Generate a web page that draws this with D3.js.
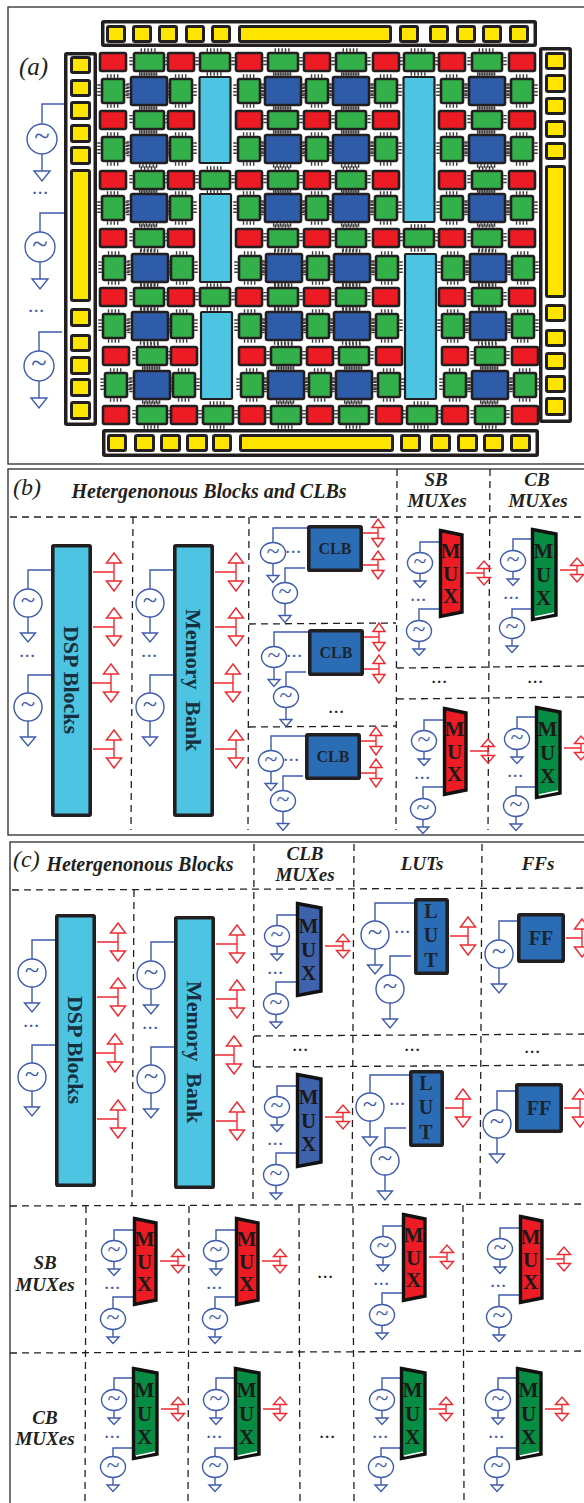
<!DOCTYPE html>
<html>
<head>
<meta charset="utf-8">
<script src="https://cdn.jsdelivr.net/npm/d3@7"></script>
<style>
  html, body { margin: 0; padding: 0; background: #fff; overflow: hidden; }
  svg { display: block; }
  text { font-family: "Liberation Serif", serif; fill: #231f20; }
</style>
</head>
<body>
<div id="chart"></div>
<script>
// Fabric contents, one string per row: R switch box, G connection box, B CLB, C hard block, . covered
var fabricRows = [
    "RGRGRGRGRGRGR",
    "GBGCGBGBGCGBG",
    "RGR.RGRGR.RGR",
    "GBG.GBGBG.GBG",
    "RGRGRGRGR.RGR",
    "GBGCGBGBG.GBG",
    "RGR.RGRGRGRGR",
    "GBG.GBGBGCGBG",
    "RGRGRGRGR.RGR",
    "GBGCGBGBG.GBG",
    "RGR.RGRGR.RGR",
    "GBG.GBGBG.GBG",
    "RGRGRGRGRGRGR"
];
// hard blocks: column, first row, last row
var hardBlocks = [[3, 1, 3], [3, 5, 7], [3, 9, 11], [9, 1, 5], [9, 7, 11]];

var panelLabels = ["(a)", "(b)", "(c)"];
var blockNames = ["DSP Blocks", "Memory Bank", "DSP Blocks", "Memory Bank"];
var muxLetters = ["M", "U", "X"];
var lutLetters = ["L", "U", "T"];
var headerB = ["Hetergenonous Blocks and CLBs", "SB", "MUXes", "CB", "MUXes"];
var headerC = ["Hetergenonous Blocks", "CLB", "MUXes", "LUTs", "FFs", "SB", "MUXes", "CB", "MUXes"];

var svgWidth = 584;
var svgHeight = 1503;

var ink = "#231f20";
var blue = "#3f5bab";
var red = "#ee2a30";
var tileFill = { R: "#ed1c24", G: "#33b04a", B: "#2f5ca8", C: "#4cc4e2" };
var muxFill = { sb: "#ed1c24", cb: "#078c43", clb: "#3f62ad" };

// layout of the fabric
var colCenters = [113, 149, 181, 215, 249, 283, 317, 351, 386, 419, 452, 487, 522];
var rowCenters = [62, 91, 120, 149, 180, 208, 238, 268, 297, 326, 356, 385, 415];
var rowShift = [0, 0, 0, 0, 0, 0, 0, 1, 0, 1, 3, 3, 3];
var xCol = d3.scaleLinear().domain(d3.range(colCenters.length)).range(colCenters);
var yRow = d3.scaleLinear().domain(d3.range(rowCenters.length)).range(rowCenters);

var topPadEdges = [[106, 126], [132, 152], [158, 178], [185, 205], [211, 231], [238, 392], [399, 419], [429, 449], [456, 476], [482, 502], [509, 529]];
var bottomPadEdges = [[107, 127], [134, 155], [160, 181], [186, 208], [212, 232], [239, 394], [400, 421], [430, 451], [457, 478], [483, 504], [510, 531]];
var leftPadEdges = [[56, 74], [79, 97], [101, 120], [124, 143], [146, 165], [169, 302], [308, 327], [334, 352], [356, 375], [378, 397], [401, 420]];
var rightPadEdges = [[52, 70], [74, 93], [97, 115], [120, 138], [142, 160], [165, 298], [304, 322], [329, 347], [352, 370], [375, 393], [397, 416]];

var svg = d3.select("#chart")
    .append("svg")
    .attr("width", svgWidth)
    .attr("height", svgHeight);

// Panel frames
var frames = [[8, 7, 600, 457], [8, 469, 600, 366], [10, 842, 600, 700]];
svg.selectAll("rect.frame")
    .data(frames)
    .join("rect")
    .attr("class", "frame")
    .attr("x", d => d[0])
    .attr("y", d => d[1])
    .attr("width", d => d[2])
    .attr("height", d => d[3])
    .attr("fill", "none")
    .attr("stroke", "#3a3a3a")
    .attr("stroke-width", 1.4);

// Pad rings around the fabric
var padBars = [[101, 20, 436, 27], [102, 429, 437, 28], [64, 52, 33, 374], [539, 47, 33, 376]];
svg.selectAll("rect.bar")
    .data(padBars)
    .join("rect")
    .attr("class", "bar")
    .attr("x", d => d[0] + 1.75)
    .attr("y", d => d[1] + 1.75)
    .attr("width", d => d[2] - 3.5)
    .attr("height", d => d[3] - 3.5)
    .attr("rx", 1)
    .attr("fill", "#fff")
    .attr("stroke", ink)
    .attr("stroke-width", 3.5);

var pads = [];
topPadEdges.forEach(e => pads.push([e[0], 25, e[1] - e[0], 18]));
bottomPadEdges.forEach(e => pads.push([e[0], 434, e[1] - e[0], 18]));
leftPadEdges.forEach(e => pads.push([70, e[0], 21, e[1] - e[0]]));
rightPadEdges.forEach(e => pads.push([545, e[0], 21, e[1] - e[0]]));
svg.selectAll("rect.pad")
    .data(pads)
    .join("rect")
    .attr("class", "pad")
    .attr("x", d => d[0] + 1.5)
    .attr("y", d => d[1] + 1.5)
    .attr("width", d => d[2] - 3)
    .attr("height", d => d[3] - 3)
    .attr("rx", 1.5)
    .attr("fill", "#fde500")
    .attr("stroke", ink)
    .attr("stroke-width", 3);

// Fabric tiles
var tiles = [];
fabricRows.forEach(function (row, r) {
    row.split("").forEach(function (kind, c) {
        if (kind == "." || kind == "C") return;
        var w = 26, h = 18;
        if (kind == "G") {
            w = r % 2 ? 22 : 30;
            h = r % 2 ? 24 : 18;
        }
        if (kind == "B") {
            w = 36;
            h = 28;
        }
        tiles.push({ kind: kind, cx: xCol(c) + rowShift[r], cy: yRow(r), w: w, h: h });
    });
});

var pinned = tiles.filter(d => d.kind != "R");
var pins = [];
pinned.forEach(function (d) {
    var ox = d.w / 2 + 3, oy = d.h / 2 + 3;
    var lx = d.w * 0.28, ly = d.h * 0.28;
    pins.push([d.cx - lx, d.cy - oy, d.cx + lx, d.cy - oy]);
    pins.push([d.cx - lx, d.cy + oy, d.cx + lx, d.cy + oy]);
    pins.push([d.cx - ox, d.cy - ly, d.cx - ox, d.cy + ly]);
    pins.push([d.cx + ox, d.cy - ly, d.cx + ox, d.cy + ly]);
});
svg.selectAll("line.pin")
    .data(pins)
    .join("line")
    .attr("class", "pin")
    .attr("x1", d => d[0])
    .attr("y1", d => d[1])
    .attr("x2", d => d[2])
    .attr("y2", d => d[3])
    .attr("stroke", "#3a3a3a")
    .attr("stroke-width", 3.5)
    .attr("stroke-dasharray", "1.4,2");

svg.selectAll("rect.tile")
    .data(tiles)
    .join("rect")
    .attr("class", "tile")
    .attr("x", d => d.cx - d.w / 2)
    .attr("y", d => d.cy - d.h / 2)
    .attr("width", d => d.w)
    .attr("height", d => d.h)
    .attr("rx", 1.5)
    .attr("fill", d => tileFill[d.kind])
    .attr("stroke", ink)
    .attr("stroke-width", 2.6);

svg.selectAll("rect.hard")
    .data(hardBlocks)
    .join("rect")
    .attr("class", "hard")
    .attr("x", d => xCol(d[0]) + rowShift[d[2]] / 2 - 15.5)
    .attr("y", d => yRow(d[1]) - 14)
    .attr("width", 31)
    .attr("height", d => yRow(d[2]) - yRow(d[1]) + 28)
    .attr("rx", 1)
    .attr("fill", tileFill.C)
    .attr("stroke", ink)
    .attr("stroke-width", 2.2);

// Dashed cell borders
var dashes = [
    [10, 517, 584, 517], [133, 517, 131, 830], [249, 517, 248, 830], [397, 469, 396, 830], [490, 469, 488, 830],
    [249, 624, 396, 623], [249, 727, 396, 726], [397, 668, 584, 666], [397, 699, 584, 697],
    [12, 890, 584, 888], [134, 890, 132, 1205], [254, 844, 253, 1205], [354, 844, 352, 1205], [482, 844, 480, 1205],
    [254, 1036, 584, 1034], [254, 1067, 584, 1065],
    [10, 1206, 584, 1204], [10, 1353, 584, 1351],
    [86, 1206, 85, 1503], [189, 1206, 188, 1503], [299, 1206, 300, 1503], [353, 1206, 354, 1503], [463, 1205, 464, 1503]
];
svg.selectAll("line.dash")
    .data(dashes)
    .join("line")
    .attr("class", "dash")
    .attr("x1", d => d[0])
    .attr("y1", d => d[1])
    .attr("x2", d => d[2])
    .attr("y2", d => d[3])
    .attr("stroke", ink)
    .attr("stroke-width", 1.3)
    .attr("stroke-dasharray", "7,5");

// Sizes of the source and arrow symbols
var sourceSize = {
    pad: { rx: 15, ry: 15, gap: 17, hw: 8, h: 10 },
    big: { rx: 14, ry: 14, gap: 16, hw: 7.5, h: 9 },
    clb: { rx: 12.5, ry: 10.5, gap: 12, hw: 6, h: 7 },
    mux: { rx: 12.5, ry: 10.5, gap: 7.5, hw: 6, h: 6.5 }
};
var arrowSize = {
    big: { hh: 19, hw: 7.5, h: 10 },
    clb: { hh: 14, hw: 6, h: 8.5 },
    mux: { hh: 12, hw: 6.5, h: 7.5 }
};

var sources = [], arrows = [], blueDots = [], blackDots = [];
var rects = [], rectLabels = [], muxes = [];

function addSource(size, cx, cy, wireY, wireTo) {
    sources.push({ s: sourceSize[size], cx: cx, cy: cy, wireY: wireY, wireTo: wireTo });
}
function addArrow(size, x, y, from) {
    arrows.push({ s: arrowSize[size], x: x, y: y, from: from });
}

// Panel (a) sources
addSource("pad", 42, 139, 104, 64);
addSource("pad", 40, 247, 213, 64);
addSource("pad", 39, 366, 332, 62);
blueDots.push([41, 192], [37, 310]);

// DSP and memory blocks
var bigBlockPos = [[51, 544], [173, 544], [55, 914], [174, 916]];
bigBlockPos.forEach(function (p, i) {
    var x = p[0], y = p[1];
    rects.push({ x: x, y: y, w: 41, h: 273, fill: tileFill.C, sw: 3.6 });
    rectLabels.push({ text: blockNames[i], x: x + 20.5, y: y + 136, size: 22, rotate: 90, fill: "#16303f", gap: i % 2 ? 6 : 0 });
    addSource("big", x - 23, y + 59, y + 26, x);
    addSource("big", x - 23, y + 163, y + 131, x);
    blueDots.push([x - 23, y + 111]);
    addArrow("big", x + 63, y + 28, x + 42);
    addArrow("big", x + 63, y + 83, x + 42);
    addArrow("big", x + 60, y + 139, x + 41);
    addArrow("big", x + 63, y + 205, x + 42);
});

// CLBs in panel (b)
var clbPos = [[307, 525], [308, 629], [305, 733]];
clbPos.forEach(function (p) {
    var x = p[0], y = p[1];
    rects.push({ x: x, y: y, w: 56, h: 47, fill: "#2b6db4", sw: 3.6 });
    rectLabels.push({ text: "CLB", x: x + 28, y: y + 24, size: 16, fill: "#1c2430" });
    addSource("clb", x - 34, y + 28, y + 3, x);
    addSource("clb", x - 22, y + 68, y + 43, x - 2);
    blueDots.push([x - 13, y + 26]);
    addArrow("clb", x + 71, y + 8, x + 56);
    addArrow("clb", x + 71, y + 40, x + 56);
});

// LUTs and FFs in panel (c)
var lutPos = [[414, 898], [409, 1070]];
lutPos.forEach(function (p) {
    var x = p[0], y = p[1];
    rects.push({ x: x, y: y, w: 35, h: 77, fill: "#2b6db4", sw: 3.6 });
    lutLetters.forEach(function (t, i) {
        rectLabels.push({ text: t, x: x + 17, y: y + 13 + i * 24.5, size: 20, fill: "#1c2430" });
    });
    addSource("big", x - 39, y + 37, y + 5, x);
    addSource("big", x - 24, y + 91, y + 58, x - 3);
    blueDots.push([x - 11, y + 33]);
    addArrow("big", x + 54, y + 38, x + 36);
});
var ffPos = [[517, 913], [515, 1083]];
ffPos.forEach(function (p) {
    var x = p[0], y = p[1];
    rects.push({ x: x, y: y, w: 48, h: 50, fill: "#2b6db4", sw: 3.6 });
    rectLabels.push({ text: "FF", x: x + 24, y: y + 25, size: 20, fill: "#1c2430" });
    addSource("big", x - 18, y + 41, y + 8, x);
    addArrow("big", x + 65, y + 25, x + 49);
});

// MUXes: kind, left edge, top edge
var muxPos = [
    ["sb", 439, 529], ["cb", 531, 528], ["sb", 443, 707], ["cb", 535, 706],
    ["clb", 296, 902], ["clb", 296, 1073],
    ["sb", 133, 1217], ["sb", 235, 1217], ["sb", 402, 1213], ["sb", 519, 1215],
    ["cb", 132, 1367], ["cb", 234, 1367], ["cb", 400, 1367], ["cb", 516, 1367]
];
var muxShape = { sb: { w: 24, h: 89 }, cb: { w: 26, h: 93 }, clb: { w: 26, h: 95 } };
muxPos.forEach(function (m) {
    var kind = m[0], x = m[1], y = m[2], s = muxShape[kind];
    muxes.push({ kind: kind, x: x, y: y, w: s.w, h: s.h });
    muxLetters.forEach(function (t, i) {
        rectLabels.push({ text: t, x: x + s.w / 2 - 0.5, y: y + s.h * (i + 1) / 4, size: 21, fill: "#1a1a1a" });
    });
    var d = kind == "cb" ? -1 : 0;
    addSource("mux", x - 19 - d, y + 34 + d, y + 13 + d * 2, x);
    addSource("mux", x - 20 - d, y + 102 + d * 2, y + 80 - d, x);
    blueDots.push([x - 20 - d, y + 70 + d]);
    addArrow("mux", x + s.w + 21 + d, y + 44 + d * 2, x + s.w + 3);
});

blackDots.push([337, 711], [440, 681], [536, 681], [301, 1049], [413, 1049], [533, 1051], [326, 1276], [328, 1436]);

// Source symbols
var sourceGroup = svg.append("g")
    .attr("fill", "none")
    .attr("stroke", blue)
    .attr("stroke-width", 1.4);

sourceGroup.selectAll("path.wire")
    .data(sources)
    .join("path")
    .attr("class", "wire")
    .attr("d", function (d) {
        var p = d3.path();
        p.moveTo(d.cx, d.cy - d.s.ry);
        p.lineTo(d.cx, d.wireY);
        p.lineTo(d.wireTo, d.wireY);
        p.moveTo(d.cx, d.cy + d.s.ry);
        p.lineTo(d.cx, d.cy + d.s.ry + d.s.gap);
        p.moveTo(d.cx - d.s.hw, d.cy + d.s.ry + d.s.gap);
        p.lineTo(d.cx + d.s.hw, d.cy + d.s.ry + d.s.gap);
        p.lineTo(d.cx, d.cy + d.s.ry + d.s.gap + d.s.h);
        p.closePath();
        return p.toString();
    });

sourceGroup.selectAll("ellipse")
    .data(sources)
    .join("ellipse")
    .attr("cx", d => d.cx)
    .attr("cy", d => d.cy)
    .attr("rx", d => d.s.rx)
    .attr("ry", d => d.s.ry)
    .attr("fill", "#fff");

svg.selectAll("text.tilde")
    .data(sources)
    .join("text")
    .attr("class", "tilde")
    .attr("x", d => d.cx)
    .attr("y", d => d.cy + d.s.rx * 0.45)
    .attr("text-anchor", "middle")
    .attr("font-size", d => d.s.rx * 1.9)
    .style("fill", blue)
    .text("~");

// Red bidirectional arrows
svg.append("g")
    .attr("fill", "none")
    .attr("stroke", red)
    .attr("stroke-width", 1.4)
    .selectAll("path")
    .data(arrows)
    .join("path")
    .attr("d", function (d) {
        var s = d.s, p = d3.path();
        p.moveTo(d.from, d.y);
        p.lineTo(d.x, d.y);
        p.moveTo(d.x, d.y - s.hh + s.h);
        p.lineTo(d.x, d.y + s.hh - s.h);
        p.moveTo(d.x - s.hw, d.y - s.hh + s.h);
        p.lineTo(d.x, d.y - s.hh);
        p.lineTo(d.x + s.hw, d.y - s.hh + s.h);
        p.closePath();
        p.moveTo(d.x - s.hw, d.y + s.hh - s.h);
        p.lineTo(d.x, d.y + s.hh);
        p.lineTo(d.x + s.hw, d.y + s.hh - s.h);
        p.closePath();
        return p.toString();
    });

// Blocks
svg.selectAll("rect.block")
    .data(rects)
    .join("rect")
    .attr("class", "block")
    .attr("x", d => d.x + d.sw / 2)
    .attr("y", d => d.y + d.sw / 2)
    .attr("width", d => d.w - d.sw)
    .attr("height", d => d.h - d.sw)
    .attr("rx", 1)
    .attr("fill", d => d.fill)
    .attr("stroke", ink)
    .attr("stroke-width", d => d.sw);

svg.selectAll("polygon.mux")
    .data(muxes)
    .join("polygon")
    .attr("class", "mux")
    .attr("points", d => [
        [d.x + 1.5, d.y + 1.5],
        [d.x + d.w - 1, d.y + 6],
        [d.x + d.w - 1, d.y + d.h - 6],
        [d.x + 1.5, d.y + d.h - 1.5]
    ].join(" "))
    .attr("fill", d => muxFill[d.kind])
    .attr("stroke", "#111")
    .attr("stroke-width", 3.4);

// the white sliver at the foot of the CB MUXes
svg.selectAll("line.sliver")
    .data(muxes.filter(d => d.kind == "cb"))
    .join("line")
    .attr("class", "sliver")
    .attr("x1", d => d.x + 4)
    .attr("y1", d => d.y + d.h - 4)
    .attr("x2", d => d.x + d.w - 3)
    .attr("y2", d => d.y + d.h - 8)
    .attr("stroke", "#fff")
    .attr("stroke-width", 1.6);

// Text inside blocks
svg.selectAll("text.inside")
    .data(rectLabels)
    .join("text")
    .attr("class", "inside")
    .attr("transform", d => `translate(${d.x}, ${d.y})` + (d.rotate ? ` rotate(${d.rotate})` : ""))
    .attr("dy", "0.34em")
    .attr("text-anchor", "middle")
    .attr("font-size", d => d.size)
    .attr("font-weight", "bold")
    .attr("word-spacing", d => d.gap || 0)
    .style("fill", d => d.fill)
    .text(d => d.text);

// Ellipses
function drawDots(cls, list, color) {
    svg.selectAll("text." + cls)
        .data(list)
        .join("text")
        .attr("class", cls)
        .attr("x", d => d[0])
        .attr("y", d => d[1] + 2)
        .attr("text-anchor", "middle")
        .attr("font-size", 15)
        .attr("font-weight", "bold")
        .attr("letter-spacing", 1.8)
        .style("fill", color)
        .text("...");
}
drawDots("bdot", blueDots, blue);
drawDots("kdot", blackDots, "#1a1a1a");

// Panel letters and headers
var panelPos = [[19, 75, 25], [13, 495, 24], [13, 867, 24]];
svg.selectAll("text.panel")
    .data(panelLabels)
    .join("text")
    .attr("class", "panel")
    .attr("x", (d, i) => panelPos[i][0])
    .attr("y", (d, i) => panelPos[i][1])
    .attr("font-size", (d, i) => panelPos[i][2])
    .attr("font-style", "italic")
    .text(d => d);

var headerPos = [
    [209, 498, 20], [436, 486, 19], [437, 507, 19], [537, 486, 19], [538, 507, 19]
];
var headerCPos = [
    [140, 871, 20], [305, 860, 19], [305, 881, 19], [422, 870, 19], [538, 870, 19],
    [45, 1269, 19], [45, 1291, 19], [45, 1424, 19], [45, 1445, 19]
];
var headers = headerB.map((t, i) => ({ t: t, p: headerPos[i] }))
    .concat(headerC.map((t, i) => ({ t: t, p: headerCPos[i] })));

svg.selectAll("text.header")
    .data(headers)
    .join("text")
    .attr("class", "header")
    .attr("x", d => d.p[0])
    .attr("y", d => d.p[1])
    .attr("font-size", d => d.p[2])
    .attr("font-style", "italic")
    .attr("font-weight", "bold")
    .attr("text-anchor", "middle")
    .text(d => d.t);
</script>
</body>
</html>
